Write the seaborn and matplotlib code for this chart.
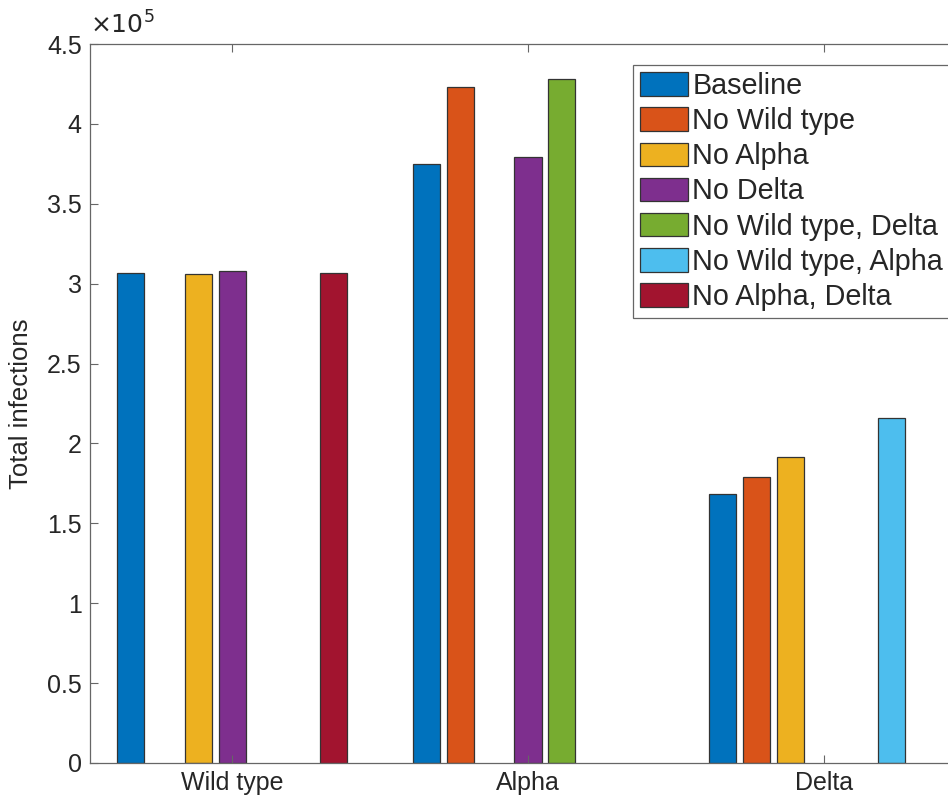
import numpy as np
import pandas as pd
import matplotlib
matplotlib.use("Agg")
import matplotlib.pyplot as plt
from matplotlib.ticker import FuncFormatter, MultipleLocator
import seaborn as sns

variants = ["Wild type", "Alpha", "Delta"]
scenarios = ["Baseline", "No Wild type", "No Alpha", "No Delta",
             "No Wild type, Delta", "No Wild type, Alpha", "No Alpha, Delta"]

# total infections per variant (rows: scenarios, columns: variants); NaN = variant absent
baseline          = [3.066e5, 3.750e5, 1.681e5]
no_wild           = [np.nan,  4.233e5, 1.789e5]
no_alpha          = [3.060e5, np.nan,  1.913e5]
no_delta          = [3.077e5, 3.794e5, np.nan]
no_wild_delta     = [np.nan,  4.281e5, np.nan]
no_wild_alpha     = [np.nan,  np.nan,  2.160e5]
no_alpha_delta    = [3.066e5, np.nan,  np.nan]

series = [baseline, no_wild, no_alpha, no_delta,
          no_wild_delta, no_wild_alpha, no_alpha_delta]

colors = ["#0072BD", "#D95319", "#EDB120", "#7E2F8E",
          "#77AC30", "#4DBEEE", "#A2142F"]

rows = []
for name, vals in zip(scenarios, series):
    for v, val in zip(variants, vals):
        rows.append({"variant": v, "scenario": name, "infections": val})
df = pd.DataFrame(rows)

sns.set_theme(style="white")
plt.rcParams["font.family"] = ["Liberation Sans", "DejaVu Sans"]

fig = plt.figure(figsize=(9.48, 8.0), dpi=100)
ax = fig.add_axes([90 / 948, 1 - 763 / 800, 876 / 948, (763 - 44) / 800])

sns.barplot(data=df, x="variant", y="infections", hue="scenario",
            order=variants, hue_order=scenarios, palette=colors,
            width=0.8, gap=0.2, edgecolor="#333333", linewidth=0.9,
            saturation=1.0, errorbar=None, ax=ax)

ax.set_xlim(-0.48, 2.48)
ax.set_ylim(0, 4.5e5)
ax.yaxis.set_major_locator(MultipleLocator(0.5e5))
ax.yaxis.set_major_formatter(FuncFormatter(lambda v, p: f"{v / 1e5:g}"))
ax.set_axisbelow(False)

ax.set_xlabel("")
ax.set_ylabel("Total infections", fontsize=18.5, color="#262626", labelpad=10)
ax.tick_params(axis="both", direction="in", length=6, width=0.8,
               color="#666666", labelsize=18, labelcolor="#262626",
               top=True, right=True, bottom=True, left=True, pad=6)
for s in ax.spines.values():
    s.set_color("#666666")
    s.set_linewidth(0.9)

ax.text(0.0, 1.008, r"$\times10^{5}$", transform=ax.transAxes,
        fontsize=18, color="#262626", ha="left", va="bottom")

handles, labels = ax.get_legend_handles_labels()
ax.legend(handles, labels, loc="upper left",
          bbox_to_anchor=(633 / 948, 1 - 65 / 800), bbox_transform=fig.transFigure,
          fontsize=20.7, frameon=True, fancybox=False, edgecolor="#666666",
          framealpha=1, handlelength=1.67, handleheight=0.87,
          handletextpad=0.15, labelspacing=0.25, borderpad=0.24,
          borderaxespad=0)
leg = ax.get_legend()
leg.get_frame().set_linewidth(0.9)

fig.savefig("out.png", dpi=100)
